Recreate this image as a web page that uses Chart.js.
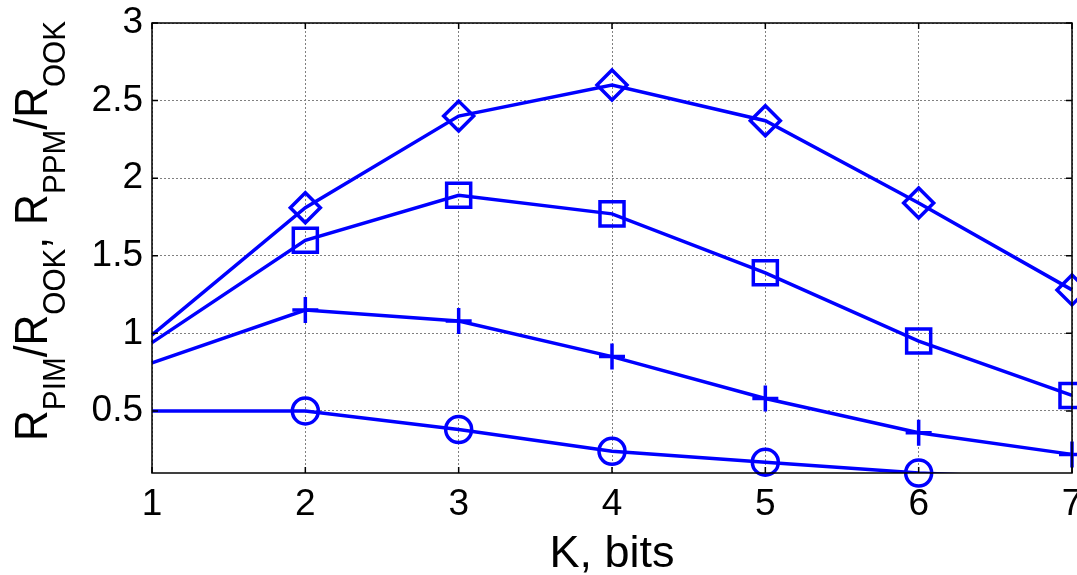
<!DOCTYPE html>
<html lang="en">
<head>
  <meta charset="UTF-8" />
  <title>Rate ratio vs K</title>
  <script src="https://cdn.jsdelivr.net/npm/chart.js"></script>
  <style>
    html, body { margin: 0; padding: 0; background: white; }
    #wrap { width: 1077px; height: 575px; position: relative; }
  </style>
</head>
<body>
  <div id="wrap"><canvas id="rateChart" width="1077" height="575"></canvas></div>

  <script>
    // values
    const kBits = [1, 2, 3, 4, 5, 6, 7];
    const diamondVals = [0.99, 1.81, 2.40, 2.60, 2.37, 1.84, 1.28];
    const squareVals = [0.94, 1.60, 1.89, 1.77, 1.39, 0.95, 0.60];
    const plusVals = [0.81, 1.15, 1.08, 0.85, 0.58, 0.36, 0.22];
    const circleVals = [0.50, 0.50, 0.38, 0.24, 0.17, 0.10, 0.06];
    const yTickVals = [0.5, 1, 1.5, 2, 2.5, 3];

    const BLUE = "#0000ff";
    const FONT = "'Liberation Sans', Arial, sans-serif";

    function pts(vals) {
      return kBits.map((k, i) => ({ x: k, y: vals[i] }));
    }

    // no marker drawn at K = 1
    function radii(r) {
      return kBits.map((k, i) => (i === 0 ? 0 : r));
    }

    function series(vals, style, r) {
      return {
        data: pts(vals),
        borderColor: BLUE,
        borderWidth: 3.5,
        pointStyle: style,
        pointRadius: radii(r),
        pointBorderWidth: 3.5,
        pointBorderColor: BLUE,
        pointBackgroundColor: "rgba(0,0,0,0)",
        tension: 0,
        clip: false
      };
    }

    // circle curve: line clipped at the axes, markers not clipped
    const circleLine = {
      data: pts(circleVals),
      borderColor: BLUE,
      borderWidth: 3.5,
      pointRadius: 0,
      tension: 0
    };
    const circleMarks = {
      data: pts(circleVals).slice(0, 6),
      showLine: false,
      pointStyle: "circle",
      pointRadius: radii(13).slice(0, 6),
      pointBorderWidth: 3.5,
      pointBorderColor: BLUE,
      pointBackgroundColor: "rgba(0,0,0,0)",
      clip: false
    };

    // box, inward ticks and axis titles
    const framePlugin = {
      id: "frame",
      afterDraw(chart) {
        const ctx = chart.ctx;
        const a = chart.chartArea;
        const xs = chart.scales.x, ys = chart.scales.y;
        ctx.save();
        ctx.strokeStyle = "#000";
        ctx.lineWidth = 1.5;
        ctx.strokeRect(a.left, a.top, a.right - a.left, a.bottom - a.top);
        ctx.beginPath();
        kBits.forEach(k => {
          const px = xs.getPixelForValue(k);
          ctx.moveTo(px, a.bottom); ctx.lineTo(px, a.bottom - 6);
          ctx.moveTo(px, a.top); ctx.lineTo(px, a.top + 6);
        });
        yTickVals.forEach(v => {
          const py = ys.getPixelForValue(v);
          ctx.moveTo(a.left, py); ctx.lineTo(a.left + 6, py);
          ctx.moveTo(a.right, py); ctx.lineTo(a.right - 6, py);
        });
        ctx.stroke();

        // y title, stretched a little like the original export
        const parts = [
          ["R", 0], ["PIM", 1], ["/R", 0], ["OOK", 1], [", R", 0],
          ["PPM", 1], ["/R", 0], ["OOK", 1]
        ];
        const bigFont = "46px " + FONT;
        const subFont = "32px " + FONT;
        let total = 0;
        parts.forEach(p => {
          ctx.font = p[1] ? subFont : bigFont;
          total += ctx.measureText(p[0]).width;
        });
        const stretch = 420 / total;
        ctx.translate(47, 231);
        ctx.rotate(-Math.PI / 2);
        ctx.scale(stretch, 1);
        ctx.fillStyle = "#000";
        ctx.textBaseline = "alphabetic";
        let cx = -total / 2;
        parts.forEach(p => {
          ctx.font = p[1] ? subFont : bigFont;
          ctx.fillText(p[0], cx, p[1] ? 18 : 0);
          cx += ctx.measureText(p[0]).width;
        });
        ctx.restore();

        // x title
        ctx.save();
        ctx.font = "45px " + FONT;
        ctx.fillStyle = "#000";
        ctx.textAlign = "center";
        ctx.textBaseline = "alphabetic";
        ctx.fillText("K, bits", (a.left + a.right) / 2, 567);
        ctx.restore();
      }
    };

    const ctx = document.getElementById("rateChart").getContext("2d");
    new Chart(ctx, {
      type: "line",
      data: {
        datasets: [
          series(diamondVals, "rectRot", 15),
          series(squareVals, "rect", 17),
          series(plusVals, "cross", 13),
          circleLine,
          circleMarks
        ]
      },
      options: {
        responsive: false,
        animation: false,
        events: [],
        layout: { autoPadding: false, padding: { top: 23, right: 5, left: 0, bottom: 0 } },
        plugins: { legend: { display: false }, tooltip: { enabled: false } },
        scales: {
          x: {
            type: "linear",
            min: 1,
            max: 7,
            grid: { color: "#808080", lineWidth: 1, drawTicks: false },
            border: { display: false, dash: [2, 2] },
            ticks: {
              stepSize: 1,
              color: "#000",
              padding: 10,
              font: { family: FONT, size: 37 },
              maxRotation: 0,
              autoSkip: false
            },
            afterFit(scale) {
              scale.height = 102;
              scale.paddingLeft = 0;
              scale.paddingRight = 0;
            }
          },
          y: {
            min: 0.1,
            max: 3,
            grid: { color: "#808080", lineWidth: 1, drawTicks: false },
            border: { display: false, dash: [2, 2] },
            ticks: {
              color: "#000",
              padding: 9,
              font: { family: FONT, size: 37 },
              callback: v => String(v)
            },
            afterBuildTicks(scale) {
              scale.ticks = yTickVals.map(v => ({ value: v }));
            },
            afterFit(scale) {
              scale.width = 152;
              scale.paddingTop = 0;
              scale.paddingBottom = 0;
            }
          }
        }
      },
      plugins: [framePlugin]
    });
  </script>
</body>
</html>
